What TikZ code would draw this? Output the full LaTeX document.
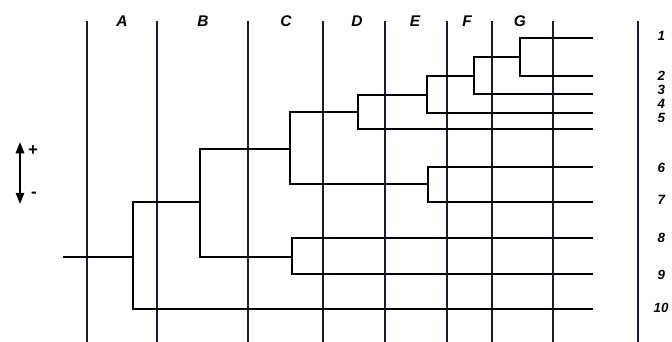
\documentclass[tikz,border=0pt]{standalone}
\usepackage{fontspec}
\setmainfont{Liberation Sans}
\usetikzlibrary{arrows.meta}

\definecolor{inkblue}{RGB}{25,25,70}

\begin{document}
\begin{tikzpicture}[
  >=Stealth,
  x=0.025cm,
  y=-0.025cm,
  line join=miter
]
\tikzstyle{grid line}=[draw=inkblue, line width=1.4pt]
\tikzstyle{branch}=[draw=black, line width=1.1pt]
\tikzstyle{col label}=[font=\bfseries\itshape\fontsize{11}{11}\selectfont, inner sep=1pt]
\tikzstyle{leaf label}=[font=\bfseries\itshape\fontsize{9.5}{9.5}\selectfont, inner sep=1pt, anchor=west]

\useasboundingbox (0,0) rectangle (672,342);

% ================= GRID =================
\foreach \x in {87,157,248,323,385,447,492,553,638}
  \draw[grid line] (\x,21) -- (\x,342);

% ================= COLUMN LABELS =================
\node[col label] (A) at (122,21) {A};
\node[col label] (B) at (203,21) {B};
\node[col label] (C) at (286,21) {C};
\node[col label] (D) at (357,21) {D};
\node[col label] (E) at (415,21) {E};
\node[col label] (F) at (467,21) {F};
\node[col label] (G) at (520,21) {G};

% ================= LEAVES =================
\coordinate (e1)  at (593,38);
\coordinate (e2)  at (593,76);
\coordinate (e3)  at (593,94);
\coordinate (e4)  at (593,113);
\coordinate (e5)  at (593,129);
\coordinate (e6)  at (593,167);
\coordinate (e7)  at (593,202);
\coordinate (e8)  at (593,238);
\coordinate (e9)  at (593,274);
\coordinate (e10) at (593,309);

\node[leaf label] (n1)  at (656,36)  {1};
\node[leaf label] (n2)  at (656,76)  {2};
\node[leaf label] (n3)  at (656,90)  {3};
\node[leaf label] (n4)  at (656,104) {4};
\node[leaf label] (n5)  at (656,118) {5};
\node[leaf label] (n6)  at (656,168) {6};
\node[leaf label] (n7)  at (656,200) {7};
\node[leaf label] (n8)  at (656,238) {8};
\node[leaf label] (n9)  at (656,275) {9};
\node[leaf label] (n10) at (652,308) {10};

% ================= JUNCTIONS =================
\coordinate (jG)   at (520,57);
\coordinate (jF)   at (474,76);
\coordinate (jE)   at (427,95);
\coordinate (jD)   at (358,112);
\coordinate (jH)   at (428,184);
\coordinate (jC)   at (290,149);
\coordinate (jI)   at (292,257);
\coordinate (jB)   at (200,202);
\coordinate (jA)   at (133,257);
\coordinate (root) at (63,257);

% ===== Branches =====
\draw[branch] (e1) -| (jG) |- (e2);
\draw[branch] (jG) -| (jF) |- (e3);
\draw[branch] (jF) -| (jE) |- (e4);
\draw[branch] (jE) -| (jD) |- (e5);
\draw[branch] (e6) -| (jH) |- (e7);
\draw[branch] (jD) -| (jC) |- (jH);
\draw[branch] (e8) -| (jI) |- (e9);
\draw[branch] (jC) -| (jB) |- (jI);
\draw[branch] (jB) -| (jA) |- (e10);
\draw[branch] (root) -- (jA);

% ===== Direction arrow =====
\coordinate (up) at (20,142);
\coordinate (dn) at (20,204);
\draw[line width=1.3pt, {Triangle[length=8pt,width=6pt]}-{Triangle[length=8pt,width=6pt]}] (up) -- (dn);
\node[font=\bfseries\fontsize{12}{12}\selectfont, inner sep=0pt] (plus) at (33,151) {+};
\node[font=\bfseries\fontsize{12}{12}\selectfont, inner sep=0pt] (minus) at (34,195) {-};
\end{tikzpicture}
\end{document}
